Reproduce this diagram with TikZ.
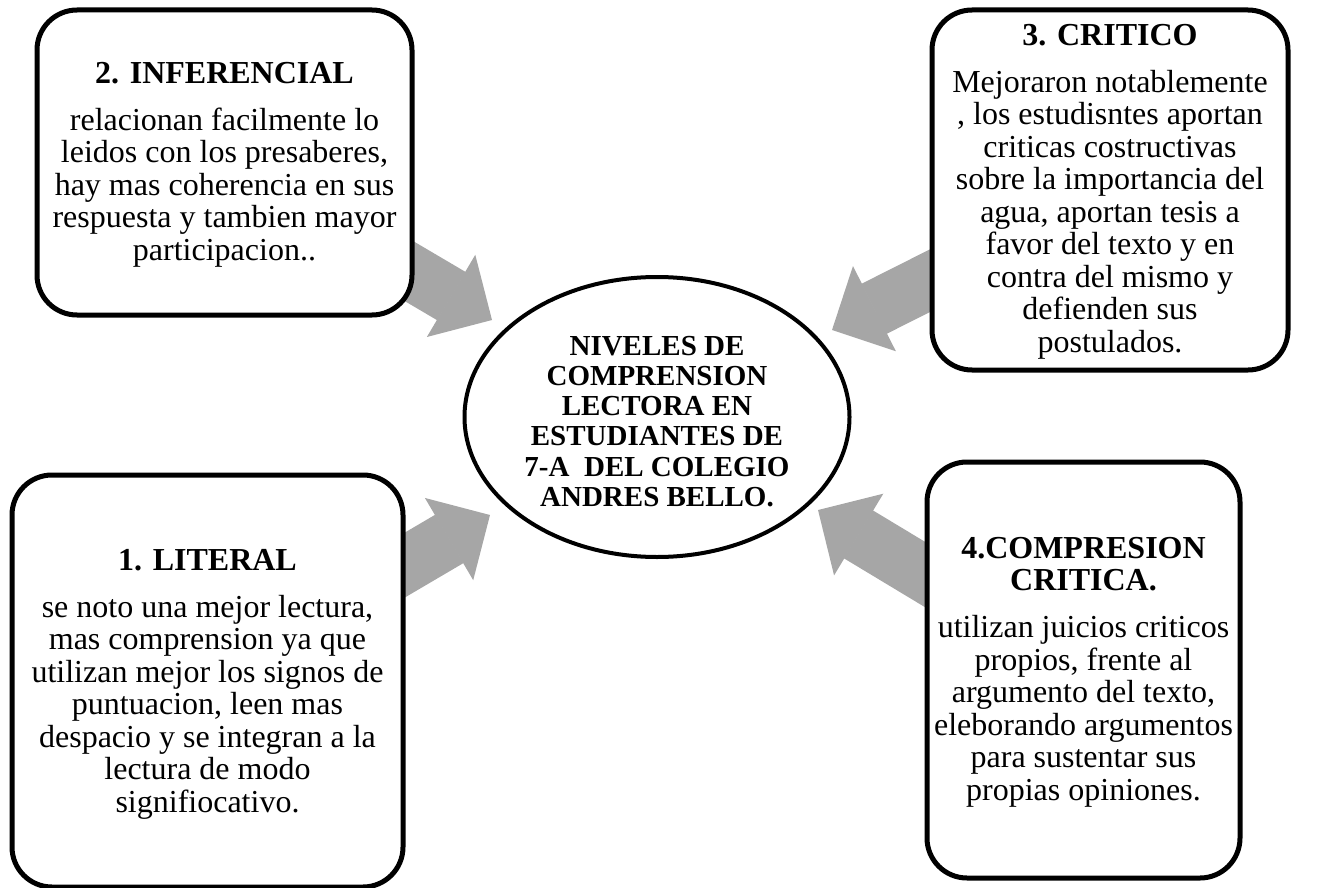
\documentclass[tikz,border=0pt]{standalone}
\usepackage{fontspec}
\setmainfont{Liberation Serif}
\usepackage{tikz}
\usetikzlibrary{positioning, arrows.meta, shapes.geometric, backgrounds}
\definecolor{Gris1}{RGB}{166,166,166}

\begin{document}
\begin{tikzpicture}[
  x=0.5pt, y=-0.5pt,
  nivel/.style={
    rectangle, rounded corners=20pt,
    draw=black, line width=2.5pt, fill=white,
    inner sep=0pt
  },
  texto/.style={
    align=center, inner sep=0pt,
    font=\fontsize{16}{16.25}\selectfont
  },
  centro/.style={
    ellipse, draw=black, line width=2pt, fill=white,
    inner sep=0pt, align=center,
    minimum width=192.5pt, minimum height=140pt,
    font=\fontsize{14.5}{15.1}\selectfont\bfseries
  },
  flecha/.style={
    -{Triangle[length=23.75pt, width=47.5pt, line width=1pt]},
    line width=28pt, draw=Gris1
  }
]
\useasboundingbox (0,0) rectangle (1317,888);

\node[centro] (niveles) at (657,417) {\rule{0pt}{14pt}NIVELES DE\\COMPRENSION\\LECTORA EN\\ESTUDIANTES DE\\7-A~ DEL COLEGIO\\ANDRES BELLO.};

\node[nivel, minimum width=187.5pt, minimum height=152.5pt] (inferencial) at (224.5,162.5) {};
\node[nivel, minimum width=178pt,   minimum height=180pt]   (critico)     at (1110,190)    {};
\node[nivel, minimum width=195.5pt, minimum height=206pt]   (literal)     at (207.5,681)   {};
\node[nivel, minimum width=156.5pt, minimum height=208pt]   (compresion)  at (1083.5,670)  {};

\node[texto, below=27.2pt of inferencial.north] (inferencialtxt) {{\bfseries 2. INFERENCIAL}\\[7.25pt]
  relacionan facilmente lo\\leidos con los presaberes,\\hay mas coherencia en sus\\respuesta y tambien mayor\\participacion..};
\node[texto, below=8.2pt of critico.north] (criticotxt) {{\bfseries 3. CRITICO}\\[7.25pt]
  Mejoraron notablemente\\, los estudisntes aportan\\criticas costructivas\\sobre la importancia del\\agua, aportan tesis a\\favor del texto y en\\contra del mismo y\\defienden sus\\postulados.};
\node[texto, below=38.2pt of literal.north] (literaltxt) {{\bfseries 1. LITERAL}\\[7.25pt]
  se noto una mejor lectura,\\mas comprension ya que\\utilizan mejor los signos de\\puntuacion, leen mas\\despacio y se integran a la\\lectura de modo\\signifiocativo.};
\node[texto, below=38.7pt of compresion.north] (compresiontxt) {{\bfseries 4.COMPRESION}\\{\bfseries CRITICA.}\\[7.25pt]
  utilizan juicios criticos\\propios, frente al\\argumento del texto,\\eleborando argumentos\\para sustentar sus\\propias opiniones.};

\coordinate (punta2) at (492,320);
\coordinate (punta3) at (832,330);
\coordinate (punta1) at (490,515);
\coordinate (punta4) at (818,510);

\begin{scope}[on background layer]
\draw[flecha] (inferencial.center) -- (punta2);
\draw[flecha] (critico.center)     -- (punta3);
\draw[flecha] (literal.center)     -- (punta1);
\draw[flecha] (compresion.center)  -- (punta4);
\end{scope}
\end{tikzpicture}
\end{document}
